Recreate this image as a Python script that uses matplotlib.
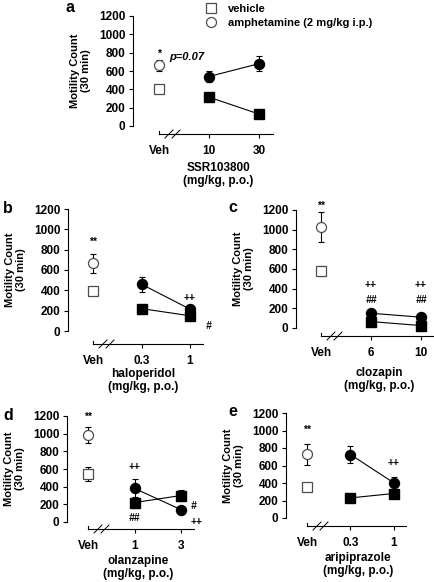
import matplotlib
matplotlib.use("Agg")
import matplotlib.pyplot as plt
from matplotlib.lines import Line2D

plt.rcParams['font.family'] = ['Liberation Sans', 'DejaVu Sans']
plt.rcParams['font.weight'] = 'bold'
plt.rcParams['font.size'] = 8.5

W, H = 435, 582
x_pos = [0, 1, 2]
y_ticks = [0, 200, 400, 600, 800, 1000, 1200]

# a - SSR103800
a_ticks = ["Veh", "10", "30"]
a_veh = [400, 665]          # vehicle, amphetamine at Veh
a_veh_err = [0, 60]
a_sq = [315, 130]
a_sq_err = [20, 15]
a_ci = [540, 680]
a_ci_err = [65, 80]

# b - haloperidol
b_ticks = ["Veh", "0.3", "1"]
b_veh = [395, 665]
b_veh_err = [15, 90]
b_sq = [220, 150]
b_sq_err = [15, 20]
b_ci = [460, 215]
b_ci_err = [75, 30]

# c - clozapin
c_ticks = ["Veh", "6", "10"]
c_veh = [580, 1025]
c_veh_err = [55, 155]
c_sq = [65, 25]
c_sq_err = [10, 10]
c_ci = [150, 110]
c_ci_err = [20, 15]

# d - olanzapine
d_ticks = ["Veh", "1", "3"]
d_veh = [545, 985]
d_veh_err = [80, 95]
d_sq = [220, 300]
d_sq_err = [60, 60]
d_ci = [380, 140]
d_ci_err = [105, 20]

# e - aripiprazole
e_ticks = ["Veh", "0.3", "1"]
e_veh = [355, 730]
e_veh_err = [15, 120]
e_sq = [230, 280]
e_sq_err = [15, 30]
e_ci = [725, 400]
e_ci_err = [95, 65]

# significance marks: (text, x, y)
a_marks = [("*", 0, 790)]
b_marks = [("**", 0, 875), ("++", 2, 325), ("#", 2.38, 50)]
c_marks = [("**", 0, 1240), ("++", 1, 437), ("++", 2, 437), ("##", 1, 285), ("##", 2, 285)]
d_marks = [("**", 0, 1190), ("++", 1, 623), ("##", 1, 50), ("#", 2.27, 180), ("++", 2.34, 0)]
e_marks = [("**", 0, 1005), ("++", 2, 630)]

fig = plt.figure(figsize=(W / 100, H / 100), dpi=100)


def panel(geom, letter, ticks, veh, veh_err, sq, sq_err, ci, ci_err, marks, xlab, xlab_pos):
    yx, y12, y0, xy, vx, lx, ex = geom
    ax = fig.add_axes([yx / W, 1 - xy / H, (ex - yx) / W, (xy - y12) / H])
    sx = (lx - vx) / 2.0
    sy = (y0 - y12) / 1200.0
    ylo = -(xy - y0) / sy
    ax.set_xlim(-(vx - yx) / sx, 2 + (ex - lx) / sx)
    ax.set_ylim(ylo, 1200)

    ek = dict(fmt='none', ecolor='k', elinewidth=0.8, capsize=2.5, capthick=0.8, clip_on=False, zorder=2)
    ax.errorbar([0, 0], veh, yerr=veh_err, **ek)
    ax.errorbar(x_pos[1:], sq, yerr=sq_err, **ek)
    ax.errorbar(x_pos[1:], ci, yerr=ci_err, **ek)
    ax.plot(x_pos[1:], sq, '-', color='k', lw=0.8, zorder=3, clip_on=False)
    ax.plot(x_pos[1:], ci, '-', color='k', lw=0.8, zorder=3, clip_on=False)
    ax.plot(0, veh[0], 's', ms=6.5, mfc='white', mec='0.3', mew=0.9, zorder=4, clip_on=False)
    ax.plot(0, veh[1], 'o', ms=7.2, mfc='white', mec='0.3', mew=0.9, zorder=4, clip_on=False)
    ax.plot(x_pos[1:], sq, 's', ms=6.5, color='k', zorder=4, clip_on=False)
    ax.plot(x_pos[1:], ci, 'o', ms=7.2, color='k', zorder=4, clip_on=False)

    for t, mx, my in marks:
        ax.text(mx, my, t, ha='center', va='center', fontsize=7.5,
                fontstyle='italic' if '#' in t else 'normal')

    for s in ['top', 'right']:
        ax.spines[s].set_visible(False)
    ax.spines['left'].set_bounds(0, 1200)
    ax.spines['bottom'].set_bounds(0, ax.get_xlim()[1])
    for s in ['left', 'bottom']:
        ax.spines[s].set_linewidth(0.8)
    ax.set_yticks(y_ticks)
    ax.set_xticks(x_pos[1:])
    ax.set_xticklabels(ticks[1:])
    ax.tick_params(axis='both', length=3, width=0.8, pad=2.5, labelsize=8.5)
    ax.tick_params(axis='x', pad=5)
    ax.text(0, ylo - 17 / sy, ticks[0], ha='center', va='center', fontsize=8.5)
    for lab in ax.get_yticklabels() + ax.get_xticklabels():
        lab.set_fontweight('bold')

    # Veh tick (up) and axis break
    ax.plot([0, 0], [ylo, ylo + 3 / sy], color='k', lw=0.8, clip_on=False)
    for off in (10, 17):
        cx = off / sx
        ax.plot([cx - 4 / sx, cx + 4 / sx], [ylo - 4 / sy, ylo + 4 / sy], color='k', lw=0.7, clip_on=False)

    ax.set_ylabel("Motility Count\n(30 min)", fontsize=8, fontweight='bold', linespacing=1.1)
    ax.yaxis.set_label_coords(-42 / (ex - yx), ((y0 - y12) / 2.0 + (xy - y0)) / (xy - y12))
    ax.set_xlabel(xlab, fontsize=8.5, fontweight='bold', linespacing=1.12)
    ax.xaxis.set_label_coords(xlab_pos[0], -xlab_pos[1] / (xy - y12))
    ax.xaxis.label.set_va('top')

    fig.text(letter[1] / W, 1 - letter[2] / H, letter[0], fontsize=11.5, fontweight='bold',
             ha='center', va='center')
    return ax


ax_a = panel((133, 16, 126, 134, 159, 259, 273), ('a', 70, 7), a_ticks, a_veh, a_veh_err, a_sq, a_sq_err,
             a_ci, a_ci_err, a_marks, "SSR103800\n(mg/kg, p.o.)", (0.61, 28))
ax_a.text(0.2, 753, "p=0.07", ha='left', va='center', fontsize=8, fontstyle='italic')

panel((68, 209, 331, 344, 93, 190, 203), ('b', 8, 208), b_ticks, b_veh, b_veh_err, b_sq, b_sq_err,
      b_ci, b_ci_err, b_marks, "haloperidol\n(mg/kg, p.o.)", (0.56, 24))
panel((296, 210, 328, 336, 321, 421, 434), ('c', 233, 207), c_ticks, c_veh, c_veh_err, c_sq, c_sq_err,
      c_ci, c_ci_err, c_marks, "clozapin\n(mg/kg, p.o.)", (0.60, 31))
panel((67, 416, 522, 529, 88, 181, 194), ('d', 8, 416), d_ticks, d_veh, d_veh_err, d_sq, d_sq_err,
      d_ci, d_ci_err, d_marks, "olanzapine\n(mg/kg, p.o.)", (0.56, 26))
panel((286, 413, 518, 526, 307, 394, 406), ('e', 233, 411), e_ticks, e_veh, e_veh_err, e_sq, e_sq_err,
      e_ci, e_ci_err, e_marks, "aripiprazole\n(mg/kg, p.o.)", (0.60, 26))

handles = [Line2D([], [], ls='none', marker='s', ms=6.5, mfc='white', mec='0.3', mew=0.9),
           Line2D([], [], ls='none', marker='o', ms=7.2, mfc='white', mec='0.3', mew=0.9)]
fig.legend(handles, ["vehicle", "amphetamine (2 mg/kg i.p.)"], loc='upper left',
           bbox_to_anchor=(198 / W, 1 + 4 / H), frameon=False, fontsize=8,
           handletextpad=1.0, labelspacing=0.35, borderpad=0.2, handlelength=1.0)

fig.savefig("out.png", dpi=100)
